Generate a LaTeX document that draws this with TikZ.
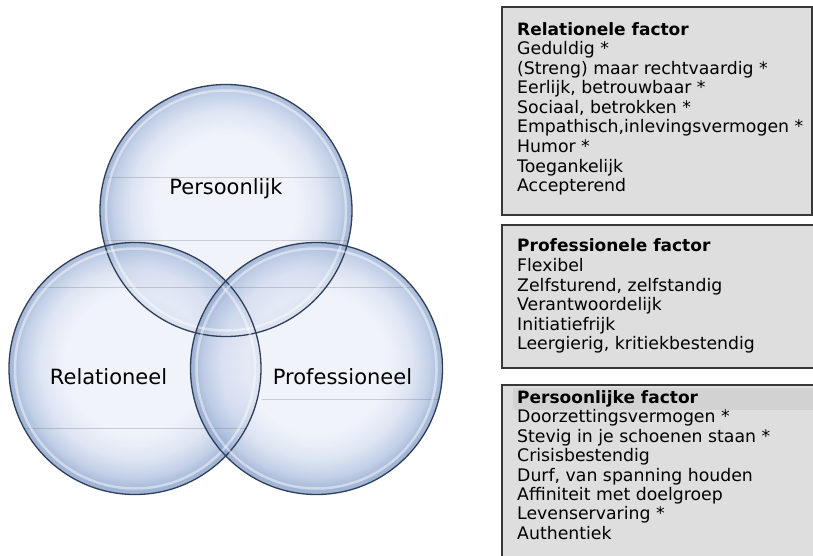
\documentclass[tikz,border=0pt]{standalone}
\usepackage{fontspec}
\setmainfont{DejaVu Sans}

\definecolor{bubin}{HTML}{EDF0F9}
\definecolor{bubsoft}{HTML}{D5DEF0}
\definecolor{bubmid}{HTML}{B2C3E1}
\definecolor{bubrim}{HTML}{8AA2CB}
\definecolor{bubline}{HTML}{2F3F57}
\definecolor{boxfill}{HTML}{DEDEDE}
\definecolor{boxhead}{HTML}{D2D2D2}
\definecolor{boxline}{HTML}{383838}

\pgfdeclareradialshading{bubble}{\pgfpoint{0bp}{1.5bp}}{%
  color(0bp)=(bubin); color(14bp)=(bubin); color(19bp)=(bubsoft);
  color(22.5bp)=(bubmid); color(25bp)=(bubrim); color(50bp)=(bubrim)}

\tikzset{
  bubble/.style={shading=bubble, fill opacity=0.8},
  gloss/.style={white, opacity=0.45, line width=2.5pt},
  rim/.style={draw=bubline, line width=1.3pt},
  streak/.style={gray, opacity=0.35, line width=0.8pt},
  circlelabel/.style={anchor=base, inner sep=0pt, font=\fontsize{21}{25}\selectfont},
  factorbox/.style={draw=boxline, line width=1.5pt, fill=boxfill},
  head/.style={anchor=base west, inner sep=0pt, font=\bfseries\fontsize{17}{19.5}\selectfont},
  item/.style={anchor=base west, inner sep=0pt, font=\fontsize{17.3}{19.5}\selectfont}
}

\begin{document}
\begin{tikzpicture}[x=1pt,y=-1pt]
\useasboundingbox (0,0) rectangle (813,556);
\clip (0,0) rectangle (813,556);

% circle centres
\coordinate (pers) at (226,210.5);
\coordinate (rel) at (135,368.5);
\coordinate (prof) at (316.5,368.5);

% bubbles
\foreach \c in {pers,rel,prof}
    \shade[bubble] (\c) circle (126pt);

% faint reflections
\begin{scope}
\clip (pers) circle (126pt);
\draw[streak] (90,177) -- (360,177);
\draw[streak] (90,240) -- (360,240);
\end{scope}
\begin{scope}
\clip (rel) circle (127pt);
\draw[streak] (0,287) -- (270,287);
\draw[streak] (0,428) -- (270,428);
\end{scope}
\begin{scope}
\clip (prof) circle (127pt);
\draw[streak] (180,287) -- (450,287);
\draw[streak] (262,399) -- (450,399);
\end{scope}

\foreach \c in {pers,rel,prof} {
    \draw[gloss] (\c) circle (120pt);
    \draw[rim] (\c) circle (126pt);
}

\node[circlelabel] (perslabel) at (226,194) {Persoonlijk};
\node[circlelabel] (rellabel) at (108.5,384) {Relationeel};
\node[circlelabel] (proflabel) at (342.5,384) {Professioneel};

% factor boxes
\draw[factorbox] (502,7) rectangle (812,215);
\draw[factorbox] (502,225) rectangle (830,368);
\draw[factorbox] (502,385) rectangle (830,580);
\fill[boxhead] (513,388) rectangle (813,410);

\node[head] (relhead) at (517,35.5) {Relationele factor};
\foreach \t [count=\i] in {Geduldig *, (Streng) maar rechtvaardig *,
    {Eerlijk, betrouwbaar *}, {Sociaal, betrokken *},
    {Empathisch,inlevingsvermogen *}, Humor *, Toegankelijk, Accepterend}
    \node[item] (rel\i) at (517,35.5+19.5*\i) {\t};

\node[head] (profhead) at (517,251) {Professionele factor};
\foreach \t [count=\i] in {Flexibel, {Zelfsturend, zelfstandig},
    Verantwoordelijk, Initiatiefrijk, {Leergierig, kritiekbestendig}}
    \node[item] (prof\i) at (517,252+19.5*\i) {\t};

\node[head] (pershead) at (517,403) {Persoonlijke factor};
\foreach \t [count=\i] in {Doorzettingsvermogen *, Stevig in je schoenen staan *,
    Crisisbestendig, {Durf, van spanning houden}, Affiniteit met doelgroep,
    Levenservaring *, Authentiek}
    \node[item] (pers\i) at (517,403.5+19.4*\i) {\t};
\end{tikzpicture}
\end{document}
